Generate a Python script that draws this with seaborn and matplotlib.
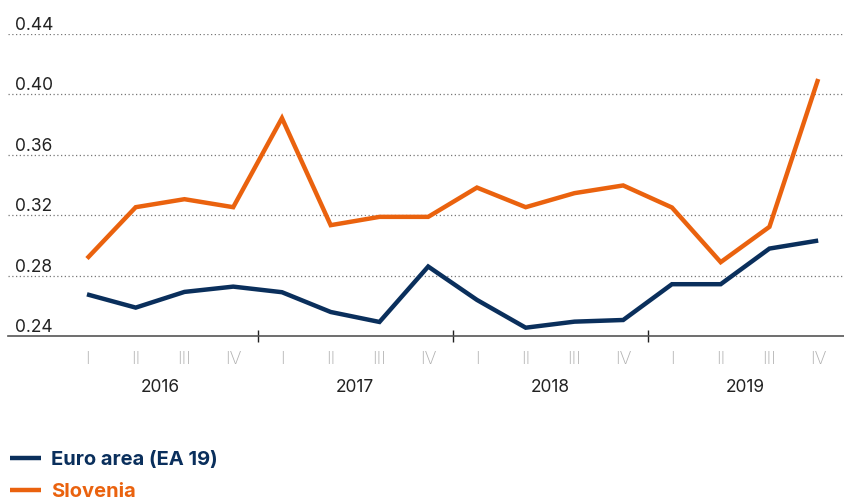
import numpy as np
import pandas as pd
import matplotlib
matplotlib.use("Agg")
import matplotlib.pyplot as plt
from matplotlib import transforms
import seaborn as sns

# quarterly values, 2016 Q1 .. 2019 Q4
years = ["2016", "2017", "2018", "2019"]
quarters = ["I", "II", "III", "IV"]
euro_area = [0.2676, 0.2588, 0.2692, 0.2727,
             0.2690, 0.2559, 0.2493, 0.2860,
             0.2639, 0.2455, 0.2495, 0.2506,
             0.2743, 0.2743, 0.2979, 0.3032]
slovenia = [0.2913, 0.3253, 0.3306, 0.3253,
            0.3843, 0.3134, 0.3189, 0.3189,
            0.3383, 0.3253, 0.3346, 0.3397,
            0.3251, 0.2889, 0.3123, 0.4102]
series_names = ["Euro area (EA 19)", "Slovenia"]
y_ticks = [0.24, 0.28, 0.32, 0.36, 0.40, 0.44]

NAVY = "#0a2f5c"
ORANGE = "#ea620e"

n = len(euro_area)
idx = np.arange(n)
df = pd.DataFrame({
    "t": np.concatenate([idx, idx]),
    "value": euro_area + slovenia,
    "series": [series_names[0]] * n + [series_names[1]] * n,
})

sns.set_style("white")
plt.rcParams["font.family"] = ["Inter", "DejaVu Sans"]

fig = plt.figure(figsize=(8.45, 5), dpi=100)
ax = fig.add_axes([8 / 845, 1 - 336 / 500, 1 - 8 / 845, (336 - 34) / 500])

sns.lineplot(data=df, x="t", y="value", hue="series", hue_order=series_names,
             palette=[NAVY, ORANGE], linewidth=3.2, ax=ax, legend=True,
             solid_joinstyle="miter", solid_capstyle="butt")

ax.set_xlim(-1.62, 15.55)
ax.set_ylim(0.24, 0.44)

# dotted gridlines + labels sitting above them
ytrans = transforms.blended_transform_factory(ax.transAxes, ax.transData)
for v in y_ticks:
    if v > 0.24:
        ax.axhline(v, color="#777777", lw=0.9, ls=(0, (1, 2)), zorder=0)
    ax.text(7 / 837, v, f"{v:.2f}", transform=ytrans,
            ha="left", va="bottom", fontsize=12.5, color="#222222")

for s in ["top", "right", "left"]:
    ax.spines[s].set_visible(False)
ax.spines["bottom"].set_color("#555555")
ax.spines["bottom"].set_linewidth(1.2)

ax.set_yticks([])
ax.set_xticks([3.5, 7.5, 11.5])
ax.set_xticklabels([])
ax.tick_params(axis="x", bottom=True, direction="inout", length=9, width=1,
               color="#222222")
ax.set_xlabel("")
ax.set_ylabel("")

# quarter and year labels
trans = transforms.blended_transform_factory(ax.transData, fig.transFigure)
for i in idx:
    ax.text(i, 1 - 359 / 500, quarters[i % 4], transform=trans, ha="center",
            va="center", fontsize=13, color="#b0b0b0", fontweight="light")
for k, yr in enumerate(years):
    ax.text(4 * k + 1.5, 1 - 387 / 500, yr, transform=trans, ha="center",
            va="center", fontsize=12.5, color="#222222")

leg = ax.legend(loc="upper left", bbox_to_anchor=(10 / 845, 1 - 451 / 500),
                bbox_transform=fig.transFigure, frameon=False, title=None,
                fontsize=14.5, handlelength=1.55, handletextpad=0.5,
                labelspacing=0.7, borderpad=0, borderaxespad=0)
for txt, col in zip(leg.get_texts(), [NAVY, ORANGE]):
    txt.set_color(col)
    txt.set_fontweight("bold")
for h in leg.get_lines():
    h.set_linewidth(3.2)

fig.savefig("out.png", dpi=100)
